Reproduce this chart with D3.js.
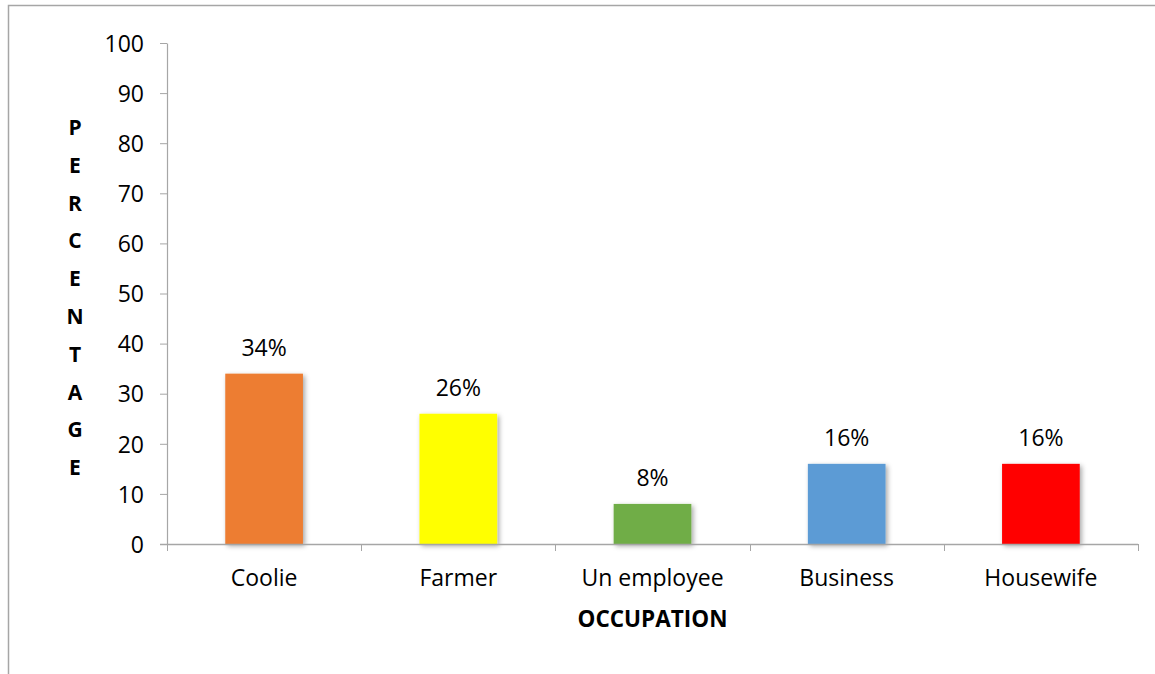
<!DOCTYPE html>
<html>
<head>
<meta charset="utf-8">
<script src="https://cdn.jsdelivr.net/npm/d3@7"></script>
<style>
  body { margin: 0; background: #fff; }
  svg { font-family: "Open Sans", "Liberation Sans", sans-serif; }
  .axis path, .axis line { stroke: #a6a6a6; }
  .axis text { fill: #000; font-size: 23px; font-family: "Open Sans", "Liberation Sans", sans-serif; }
</style>
</head>
<body>
<svg width="1155" height="674"></svg>
<script>
// chart data
const categories = ["Coolie", "Farmer", "Un employee", "Business", "Housewife"];
const percentages = [34, 26, 8, 16, 16];
const barColors = ["#ED7D31", "#FFFF00", "#70AD47", "#5B9BD5", "#FF0000"];
const yTicks = [0, 10, 20, 30, 40, 50, 60, 70, 80, 90, 100];
const yTitle = "PERCENTAGE";
const xTitle = "OCCUPATION";

const svg = d3.select("svg");

// outer frame (top and left edges)
svg.append("path")
  .attr("d", "M8.5,674 V5.5 H1155")
  .attr("fill", "none")
  .attr("stroke", "#a6a6a6")
  .attr("stroke-width", 1.5);

const margin = { left: 167, right: 1138, top: 43, bottom: 544 };

const x = d3.scaleBand()
  .domain(categories)
  .range([margin.left, margin.right])
  .paddingInner(0.6)
  .paddingOuter(0.3);

const y = d3.scaleLinear()
  .domain([0, 100])
  .range([margin.bottom, margin.top]);

// shadow filter for bars
const defs = svg.append("defs");
const f = defs.append("filter").attr("id", "shadow")
  .attr("x", "-20%").attr("y", "-20%").attr("width", "140%").attr("height", "140%");
f.append("feDropShadow")
  .attr("dx", 2).attr("dy", 2).attr("stdDeviation", 2.5)
  .attr("flood-color", "#000").attr("flood-opacity", 0.35);

// y axis
const yAxis = svg.append("g")
  .attr("class", "axis")
  .attr("transform", `translate(${margin.left},0)`)
  .call(d3.axisLeft(y).tickValues(yTicks).tickSize(7).tickPadding(16).tickSizeOuter(0));
yAxis.select(".domain").attr("stroke-width", 1.2);
yAxis.selectAll(".tick text").attr("dy", "0.36em");

// bars
svg.append("g").selectAll("rect")
  .data(percentages)
  .join("rect")
    .attr("x", (d, i) => x(categories[i]))
    .attr("y", d => y(d))
    .attr("width", x.bandwidth())
    .attr("height", d => y(0) - y(d))
    .attr("fill", (d, i) => barColors[i])
    .attr("filter", "url(#shadow)");

// x axis: baseline plus category boundary ticks
const xg = svg.append("g").attr("class", "axis");
xg.append("line")
  .attr("x1", margin.left - 7).attr("x2", margin.right)
  .attr("y1", y(0) + 0.5).attr("y2", y(0) + 0.5)
  .attr("stroke-width", 1.5);
const bounds = d3.range(categories.length + 1).map(i => margin.left + i * (margin.right - margin.left) / categories.length);
xg.selectAll(".bt")
  .data(bounds)
  .join("line")
    .attr("class", "bt")
    .attr("x1", d => Math.round(d) + 0.5).attr("x2", d => Math.round(d) + 0.5)
    .attr("y1", y(0)).attr("y2", y(0) + 7);
xg.selectAll(".cl")
  .data(categories)
  .join("text")
    .attr("class", "cl")
    .attr("x", d => x(d) + x.bandwidth() / 2)
    .attr("y", y(0) + 42)
    .attr("text-anchor", "middle")
    .text(d => d);

// value labels
svg.append("g").selectAll("text")
  .data(percentages)
  .join("text")
    .attr("x", (d, i) => x(categories[i]) + x.bandwidth() / 2)
    .attr("y", d => y(d) - 18)
    .attr("text-anchor", "middle")
    .attr("font-size", 23)
    .text(d => d + "%");

// x title
svg.append("text")
  .attr("x", (margin.left + margin.right) / 2)
  .attr("y", 627)
  .attr("text-anchor", "middle")
  .attr("font-size", 22.5)
  .attr("font-weight", "bold")
  .text(xTitle);

// y title, stacked letters
svg.append("g").selectAll("text")
  .data(yTitle.split(""))
  .join("text")
    .attr("x", 75)
    .attr("y", (d, i) => 135 + i * 37.8)
    .attr("text-anchor", "middle")
    .attr("font-size", 21)
    .attr("font-weight", "bold")
    .text(d => d);
</script>
</body>
</html>
